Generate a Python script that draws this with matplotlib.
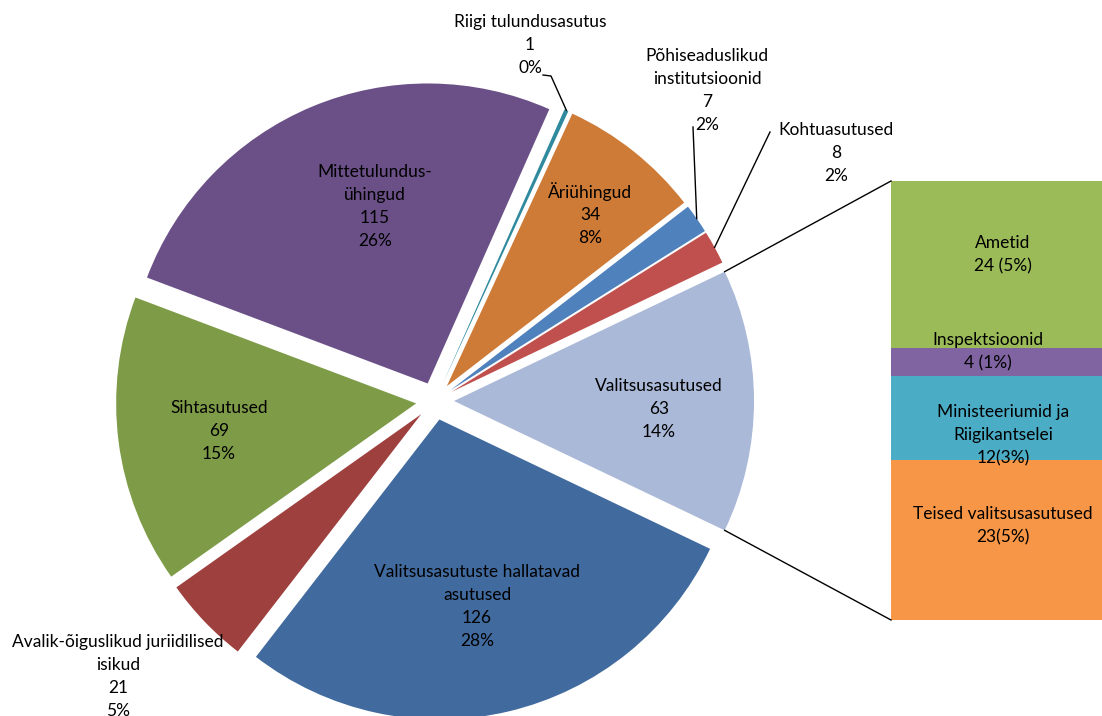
import numpy as np
import matplotlib
matplotlib.use("Agg")
import matplotlib.pyplot as plt

plt.rcParams['font.family'] = ['Lato', 'DejaVu Sans']

# ---------------- data ----------------
pie_labels = ["Valitsusasutused", "Kohtuasutused", "Põhiseaduslikud\ninstitutsioonid",
              "Äriühingud", "Riigi tulundusasutus", "Mittetulundus-\nühingud",
              "Sihtasutused", "Avalik-õiguslikud juriidilised\nisikud",
              "Valitsusasutuste hallatavad\nasutused"]
pie_values = [63, 8, 7, 34, 1, 115, 69, 21, 126]
pie_pct = ["14%", "2%", "2%", "8%", "0%", "26%", "15%", "5%", "28%"]
pie_colors = ["#AAB9D8", "#C0504D", "#4F81BD", "#CD7B37", "#2F8A9E",
              "#6A5087", "#7E9B48", "#9E413E", "#416A9E"]

bar_labels = ["Ametid", "Inspektsioonid", "Ministeeriumid ja\nRiigikantselei", "Teised valitsusasutused"]
bar_values = [24, 4, 12, 23]
bar_text = ["24 (5%)", "4 (1%)", "12(3%)", "23(5%)"]
bar_colors = ["#9BBB59", "#8064A2", "#4BACC6", "#F79646"]

# ---------------- figure ----------------
W, H = 1102, 716
fig = plt.figure(figsize=(W / 100, H / 100), dpi=100)

# bar of pie axes (added first so the main axes with texts is drawn above)
bx0, bx1, by0, by1 = 891, 1102, 181, 620
ax2 = fig.add_axes([bx0 / W, (H - by1) / H, (bx1 - bx0) / W, (by1 - by0) / H])
bottoms = np.concatenate([[0], np.cumsum(bar_values)[:-1]])
ax2.bar(0, bar_values, bottom=bottoms, width=1, color=bar_colors, linewidth=0)
ax2.set_xlim(-0.5, 0.5)
ax2.set_ylim(sum(bar_values), 0)
ax2.axis('off')

ax = fig.add_axes([0, 0, 1, 1])
ax.set_zorder(3)
ax.patch.set_visible(False)

def P(px, py):
    return px, H - py

total = sum(pie_values)
start = -pie_values[0] / total * 360 / 2
cx, cy = P(435, 401)
R = 300
gap = 19
wedges, _ = ax.pie(pie_values, colors=pie_colors, startangle=start, counterclock=True,
                   explode=[gap] * len(pie_values), radius=R, center=(cx, cy),
                   wedgeprops=dict(linewidth=0))
ax.set_xlim(0, W)
ax.set_ylim(0, H)
ax.set_aspect('equal')
ax.axis('off')

fs = 12.5
lh = 23

def label(px, py_first, lines):
    for i, t in enumerate(lines):
        x, y = P(px, py_first + i * lh)
        ax.text(x, y, t, ha='center', va='center', fontsize=fs, color='black')

# label anchor positions (pixel coords: centre x, first line centre y)
pos = {
    0: (659, 386), 1: (836, 130), 2: (707, 56), 3: (590, 192), 4: (530, 22),
    5: (375, 172), 6: (219, 408), 7: (118, 642), 8: (477, 572),
}
for i, (lab, v, pc) in enumerate(zip(pie_labels, pie_values, pie_pct)):
    lines = lab.split("\n") + [str(v), pc]
    label(pos[i][0], pos[i][1], lines)

def outer_point(w, frac=1.0):
    ang = np.deg2rad((w.theta1 + w.theta2) / 2)
    x0, y0 = w.center
    return x0 + w.r * frac * np.cos(ang), y0 + w.r * frac * np.sin(ang)

# leader lines
lk = dict(color='black', lw=1)
ex, ey = outer_point(wedges[4])
ax.plot([P(543, 75)[0], P(551, 76)[0], ex], [P(543, 75)[1], P(551, 76)[1], ey], **lk)
ex, ey = outer_point(wedges[2])
ax.plot([P(693, 127)[0], ex], [P(693, 127)[1], ey], **lk)
ex, ey = outer_point(wedges[1])
ax.plot([P(770, 132)[0], ex], [P(770, 132)[1], ey], **lk)

bpos = [(1003, 243), (988, 340), (1003, 412), (1003, 514)]
for (px, py), lab, t in zip(bpos, bar_labels, bar_text):
    label(px, py, lab.split("\n") + [t])

# connector lines from the Valitsusasutused slice to the bar
w0 = wedges[0]
x0, y0 = w0.center
inv = ax.transData.inverted()
tl = inv.transform(ax2.transAxes.transform((0, 1)))
bl = inv.transform(ax2.transAxes.transform((0, 0)))
pt = (x0 + w0.r * np.cos(np.deg2rad(w0.theta2)), y0 + w0.r * np.sin(np.deg2rad(w0.theta2)))
pb = (x0 + w0.r * np.cos(np.deg2rad(w0.theta1)), y0 + w0.r * np.sin(np.deg2rad(w0.theta1)))
ax.plot([pt[0], tl[0]], [pt[1], tl[1]], **lk)
ax.plot([pb[0], bl[0]], [pb[1], bl[1]], **lk)

fig.savefig("out.png", dpi=100)
